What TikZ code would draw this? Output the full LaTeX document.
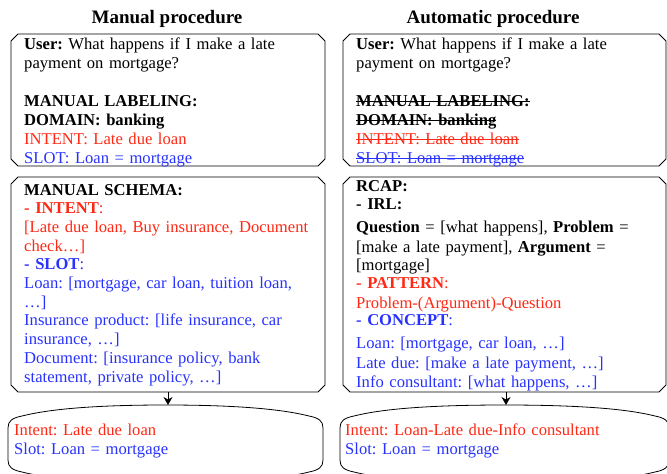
\documentclass[tikz,border=0pt]{standalone}
\usepackage{fontspec}
\setmainfont{Liberation Serif}
\usetikzlibrary{arrows.meta}
\definecolor{myred}{RGB}{255,40,20}
\definecolor{myblue}{RGB}{40,50,255}
\newcommand\strk[1]{\leavevmode\setbox0\hbox{#1}\rlap{\vrule height 0.31em depth -0.25em width \wd0}\box0}
\newcommand\chamf[1]{\draw[outline] ([xshift=7pt]#1.north west) -- ([xshift=-7pt]#1.north east)
  -- ([yshift=-7pt]#1.north east) -- ([yshift=7pt]#1.south east)
  -- ([xshift=-7pt]#1.south east) -- ([xshift=7pt]#1.south west)
  -- ([yshift=7pt]#1.south west) -- ([yshift=-7pt]#1.north west) -- cycle;}
\frenchspacing
\begin{document}
\begin{tikzpicture}[x=1pt,y=-1pt,
  panel/.style={rectangle,inner sep=0pt,outer sep=0pt},
  txt/.style={inner sep=0pt,text width=305pt,align=left,anchor=base west,
    font=\fontsize{16.6}{19}\selectfont},
  head/.style={inner sep=0pt,anchor=base,font=\fontsize{19}{22}\selectfont\bfseries},
  outline/.style={draw,line width=0.8pt},
  flow/.style={line width=0.8pt,-{Stealth[length=8pt,width=9pt]}}]
\useasboundingbox (0,0) rectangle (667,474);

% titles
\node[head] (h1) at (167,23) {Manual procedure};
\node[head] (h2) at (493,23) {Automatic procedure};

% panels
\node[panel,minimum width=314pt,minimum height=132pt] (p1) at (168,100) {};
\node[panel,minimum width=314pt,minimum height=215pt] (p2) at (168,284.5) {};
\node[panel,minimum width=323pt,minimum height=132pt] (q1) at (504.5,100) {};
\node[panel,minimum width=323pt,minimum height=215pt] (q2) at (504.5,284.5) {};
\chamf{p1}\chamf{p2}\chamf{q1}\chamf{q2}

% output shapes
\draw[outline] (8,428) .. controls (8,421) and (12,418) .. (22,416)
  .. controls (42,411) and (80,405) .. (165.5,405)
  .. controls (251,405) and (289,411) .. (309,416)
  .. controls (319,418) and (323,421) .. (323,428) -- (323,460)
  .. controls (323,467) and (319,470) .. (309,472)
  .. controls (289,477) and (251,483) .. (165.5,483)
  .. controls (80,483) and (42,477) .. (22,472)
  .. controls (12,470) and (8,467) .. (8,460) -- cycle;
\draw[outline] (340,428) .. controls (340,421) and (344,418) .. (354,416)
  .. controls (374,411) and (412,405) .. (504.5,405)
  .. controls (597,405) and (635,411) .. (655,416)
  .. controls (665,418) and (669,421) .. (669,428) -- (669,460)
  .. controls (669,467) and (665,470) .. (655,472)
  .. controls (635,477) and (597,483) .. (504.5,483)
  .. controls (412,483) and (374,477) .. (354,472)
  .. controls (344,470) and (340,467) .. (340,460) -- cycle;
\coordinate (o1) at (168,405);
\coordinate (o2) at (506,405);

\draw[flow] (p2.south) -- (o1);
\draw[flow] (q2.south -| o2) -- (o2);

% texts, left
\node[txt] (t1) at (24,49) {\textbf{User:} What happens if I make a late\\
payment on mortgage?\\[19pt]
\textbf{MANUAL LABELING:}\\
\textbf{DOMAIN: banking}\\
\textcolor{myred}{INTENT: Late due loan}\\
\textcolor{myblue}{SLOT: Loan = mortgage}};

\node[txt,font=\fontsize{16.6}{18.7}\selectfont] (t2) at (24,195) {\textbf{MANUAL SCHEMA:}\\
\textcolor{myred}{\textbf{- INTENT}:}\\
\textcolor{myred}{[Late due loan, Buy insurance, Document}\\
\textcolor{myred}{check…]}\\
\textcolor{myblue}{\textbf{- SLOT}:}\\
\textcolor{myblue}{Loan: [mortgage, car loan, tuition loan,}\\
\textcolor{myblue}{…]}\\
\textcolor{myblue}{Insurance product: [life insurance, car}\\
\textcolor{myblue}{insurance, …]}\\
\textcolor{myblue}{Document: [insurance policy, bank}\\
\textcolor{myblue}{statement, private policy, …]}};

% texts, right
\node[txt] (u1) at (356,49) {\textbf{User:} What happens if I make a late\\
payment on mortgage?\\[19pt]
\strk{\textbf{MANUAL LABELING:}}\\
\strk{\textbf{DOMAIN: banking}}\\
\textcolor{myred}{\strk{INTENT: Late due loan}}\\
\textcolor{myblue}{\strk{SLOT: Loan = mortgage}}};

\node[txt] (u2) at (356,191) {\textbf{RCAP:}\\[-1pt]
\textbf{- IRL:}\\[4pt]
\textbf{Question} = [what happens], \textbf{Problem} =\\[1pt]
[make a late payment], \textbf{Argument} =\\[-1pt]
[mortgage]\\[-1pt]
\textcolor{myred}{\textbf{- PATTERN}:}\\[1pt]
\textcolor{myred}{Problem-(Argument)-Question}\\[-2pt]
\textcolor{myblue}{\textbf{- CONCEPT}:}\\[4pt]
\textcolor{myblue}{Loan: [mortgage, car loan, …]}\\[1pt]
\textcolor{myblue}{Late due: [make a late payment, …]}\\
\textcolor{myblue}{Info consultant: [what happens, …]}};

% output texts
\node[txt] (r1) at (14,435) {\textcolor{myred}{Intent: Late due loan}\\
\textcolor{myblue}{Slot: Loan = mortgage}};
\node[txt] (r2) at (345,435) {\textcolor{myred}{Intent: Loan-Late due-Info consultant}\\
\textcolor{myblue}{Slot: Loan = mortgage}};
\end{tikzpicture}
\end{document}
